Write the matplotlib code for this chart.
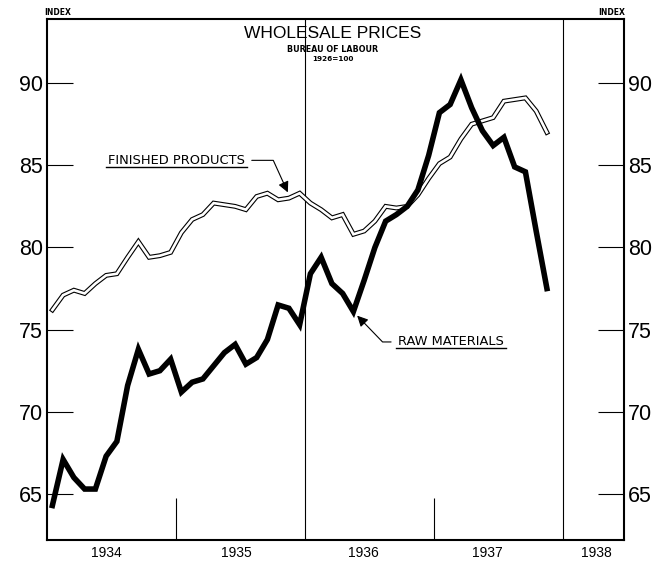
import matplotlib
matplotlib.use("Agg")
import matplotlib.pyplot as plt
import numpy as np
from matplotlib.lines import Line2D
from matplotlib.text import Text

# ////////////////////////////////////////////////////////////////////////////
# DONNEES : indices mensuels janv. 1934 -> nov. 1937 (1926 = 100)
years = ["1934", "1935", "1936", "1937", "1938"]
year_label_pos = [5.5, 17.6, 29.4, 41.0, 51.1]      # en mois depuis janv. 1934

raw_materials = [64.3, 67.1, 66.0, 65.3, 65.3, 67.3, 68.2, 71.6, 73.8, 72.3, 72.5, 73.2,
                 71.2, 71.8, 72.0, 72.8, 73.6, 74.1, 72.9, 73.3, 74.4, 76.5, 76.3, 75.3,
                 78.4, 79.4, 77.8, 77.2, 76.1, 78.0, 80.0, 81.6, 82.0, 82.5, 83.5, 85.6,
                 88.2, 88.7, 90.2, 88.5, 87.1, 86.2, 86.7, 84.9, 84.6, 81.0, 77.5]

finished_products = [76.2, 77.1, 77.4, 77.2, 77.8, 78.3, 78.4, 79.4, 80.35, 79.4, 79.5, 79.7,
                     80.9, 81.7, 82.0, 82.7, 82.6, 82.5, 82.3, 83.1, 83.3, 82.9, 83.0, 83.3,
                     82.7, 82.3, 81.8, 82.0, 80.8, 81.0, 81.6, 82.5, 82.4, 82.5, 83.2, 84.2,
                     85.1, 85.5, 86.6, 87.5, 87.7, 87.9, 88.9, 89.0, 89.1, 88.3, 87.0]

months = np.arange(len(raw_materials)) + 0.5          # milieu de chaque mois

# ////////////////////////////////////////////////////////////////////////////
lib = ["Liberation Sans", "DejaVu Sans"]

fig = plt.figure(figsize=(6.65, 5.61), dpi=100)
ax = fig.add_axes([47 / 665, 1 - 540 / 561, 577 / 665, 521 / 561])

# courbe double (produits finis) : trait noir + trait blanc par-dessus
ax.plot(months, finished_products, color="black", lw=3.5, solid_joinstyle="miter", zorder=3)
ax.plot(months, finished_products, color="white", lw=1.9, solid_joinstyle="miter", zorder=4)
# matieres premieres : trait epais
ax.plot(months, raw_materials, color="black", lw=4.0, solid_joinstyle="miter", zorder=5)

# separations d'annees
ax.axvline(24, color="black", lw=0.8, zorder=1)
ax.axvline(48, color="black", lw=0.8, zorder=1)
ax.vlines([12, 36], 62.2, 64.75, color="black", lw=0.8, zorder=1)

ax.set_xlim(0, 53.67)
ax.set_ylim(62.2, 93.9)

# ////////////////////////////////////////////////////////////////////////////
# axes / graduations
for s in ax.spines.values():
    s.set_linewidth(1.5)
ax.set_yticks([65, 70, 75, 80, 85, 90])
ax.tick_params(axis="y", direction="in", length=18.5, width=0.8, pad=3,
               left=True, right=True, labelleft=True, labelright=True)
for tk in ax.yaxis.get_major_ticks():
    for lab in (tk.label1, tk.label2):
        lab.set_family(lib)
        lab.set_fontsize(15.5)
ax.set_xticks(year_label_pos)
ax.set_xticklabels(years, family=lib, fontsize=10)
ax.tick_params(axis="x", length=0, pad=4)

# titres
fig.text(0.5008, 0.9394, "WHOLESALE PRICES", ha="center", va="center",
         family=lib, fontsize=12.5)
fig.text(0.5008, 0.9118, "BUREAU OF LABOUR", ha="center", va="center",
         fontsize=5.8, fontweight="bold")
fig.text(0.5008, 0.8945, "1926=100", ha="center", va="center", fontsize=5.2, fontweight="bold")
fig.text(0.067, 0.9777, "INDEX", ha="left", va="center", fontsize=5.5, fontweight="bold")
fig.text(0.9395, 0.9777, "INDEX", ha="right", va="center", fontsize=5.5, fontweight="bold")

# ////////////////////////////////////////////////////////////////////////////
# etiquettes avec fleches
arrow_kw = dict(arrowstyle="-|>", color="black", lw=0.8, mutation_scale=16,
                shrinkA=3, shrinkB=0)
t1 = ax.annotate("FINISHED PRODUCTS", xy=(22.4, 83.35), xytext=(18.4, 85.3),
                 ha="right", va="center", fontsize=9.4,
                 arrowprops=dict(connectionstyle="angle,angleA=0,angleB=-65.6,rad=0",
                                 relpos=(1.0, 0.5), **arrow_kw))
t2 = ax.annotate("RAW MATERIALS", xy=(28.85, 75.85), xytext=(32.65, 74.25),
                 ha="left", va="center", fontsize=9.4,
                 arrowprops=dict(connectionstyle="angle,angleA=0,angleB=134,rad=0",
                                 relpos=(0.0, 0.5), **arrow_kw))

# soulignement des etiquettes (boite du texte seul, sans la fleche)
fig.canvas.draw()
renderer = fig.canvas.get_renderer()
inv = fig.transFigure.inverted()
for t in (t1, t2):
    bb = Text.get_window_extent(t, renderer)
    (x0, y0), (x1, _) = inv.transform([(bb.x0 - 2, bb.y0), (bb.x1 + 2, bb.y0)])
    fig.add_artist(Line2D([x0, x1], [y0, y0], color="black", lw=1.0))

fig.savefig("out.png", dpi=100)
